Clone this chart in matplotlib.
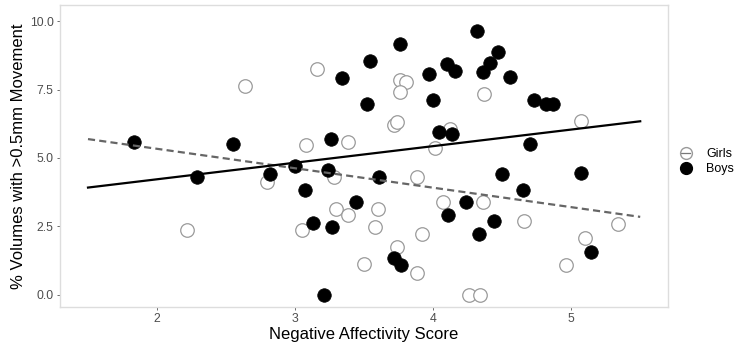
import numpy as np
import matplotlib
matplotlib.use("Agg")
import matplotlib.pyplot as plt
from matplotlib.lines import Line2D

plt.rcParams['font.family'] = ['Liberation Sans', 'DejaVu Sans']

# Girls (open circles)
girls_x = [2.22, 2.64, 2.80, 3.05, 3.08, 3.16, 3.28, 3.30, 3.38, 3.38, 3.50, 3.58,
           3.60, 3.72, 3.74, 3.74, 3.76, 3.80, 3.76, 3.88, 3.88, 3.92, 4.01, 4.07,
           4.12, 4.26, 4.34, 4.36, 4.37, 4.66, 4.96, 5.07, 5.10, 5.34]
girls_y = [2.36, 7.64, 4.13, 2.36, 5.47, 8.25, 4.29, 3.14, 2.93, 5.57, 1.12, 2.49,
           3.13, 6.20, 6.32, 1.75, 7.85, 7.77, 7.42, 4.29, 0.79, 2.22, 5.36, 3.40,
           6.07, 0.01, 0.01, 3.40, 7.33, 2.71, 1.11, 6.36, 2.08, 2.60]

# Boys (filled circles)
boys_x = [1.83, 2.29, 2.55, 2.82, 3.00, 3.07, 3.13, 3.21, 3.24, 3.26, 3.27, 3.34,
          3.44, 3.52, 3.545, 3.61, 3.72, 3.76, 3.77, 3.97, 4.00, 4.04, 4.10, 4.11,
          4.14, 4.16, 4.24, 4.32, 4.33, 4.36, 4.41, 4.44, 4.47, 4.50, 4.56, 4.65,
          4.70, 4.73, 4.82, 4.87, 5.07, 5.14]
boys_y = [5.58, 4.29, 5.52, 4.41, 4.69, 3.84, 2.61, 0.01, 4.57, 5.70, 2.49, 7.92,
          3.40, 6.98, 8.53, 4.31, 1.35, 9.16, 1.11, 8.08, 7.10, 5.94, 8.42, 2.93,
          5.89, 8.18, 3.40, 9.63, 2.22, 8.14, 8.48, 2.71, 8.88, 4.41, 7.95, 3.82,
          5.52, 7.10, 6.97, 6.97, 4.46, 1.58]

# fitted lines (value at x=1.5, slope)
fit_range = [1.5, 5.5]
girls_fit = (5.69, -0.71)
boys_fit = (3.92, 0.605)

fig = plt.figure(figsize=(7.35, 3.43), dpi=100)
ax = fig.add_axes([0.0816, 0.105, 0.827, 0.880])

ax.scatter(girls_x, girls_y, s=95, facecolor='white', edgecolor='#9a9a9a',
           linewidth=0.9, zorder=2)
ax.scatter(boys_x, boys_y, s=95, facecolor='black', edgecolor='black',
           linewidth=0.5, zorder=3)

fx = np.array(fit_range)
ax.plot(fx, girls_fit[0] + girls_fit[1] * (fx - 1.5), color='#666666',
        linestyle=(0, (3.2, 1.9)), linewidth=1.6, zorder=4)
ax.plot(fx, boys_fit[0] + boys_fit[1] * (fx - 1.5), color='black',
        linewidth=1.6, zorder=4)

ax.set_xlim(1.297, 5.70)
ax.set_ylim(-0.44, 10.58)
ax.set_xticks([2, 3, 4, 5])
ax.set_yticks([0, 2.5, 5, 7.5, 10])
ax.set_yticklabels(['0.0', '2.5', '5.0', '7.5', '10.0'])
ax.tick_params(color='#555555', labelcolor='#4d4d4d', labelsize=8.8,
               length=2.5, width=0.6, pad=2)
for sp in ax.spines.values():
    sp.set_color('#dddddd')
    sp.set_linewidth(1.0)

ax.set_xlabel('Negative Affectivity Score', fontsize=12, labelpad=1)
ax.set_ylabel('% Volumes with >0.5mm Movement', fontsize=12, labelpad=3)

handles = [
    Line2D([0], [0], color='#777777', linestyle='-', linewidth=0.9,
           marker='o', markersize=8.5, markerfacecolor='none', markeredgecolor='#9a9a9a'),
    Line2D([0], [0], color='black', linewidth=1.0, marker='o', markersize=8.5,
           markerfacecolor='black', markeredgecolor='black'),
]
fig.legend(handles, ['Girls', 'Boys'], loc='center left', bbox_to_anchor=(0.9265, 0.529),
           frameon=False, fontsize=9, handlelength=0.75, handletextpad=1.25,
           labelspacing=0.25, borderpad=0, borderaxespad=0)

fig.savefig('out.png', dpi=100)
